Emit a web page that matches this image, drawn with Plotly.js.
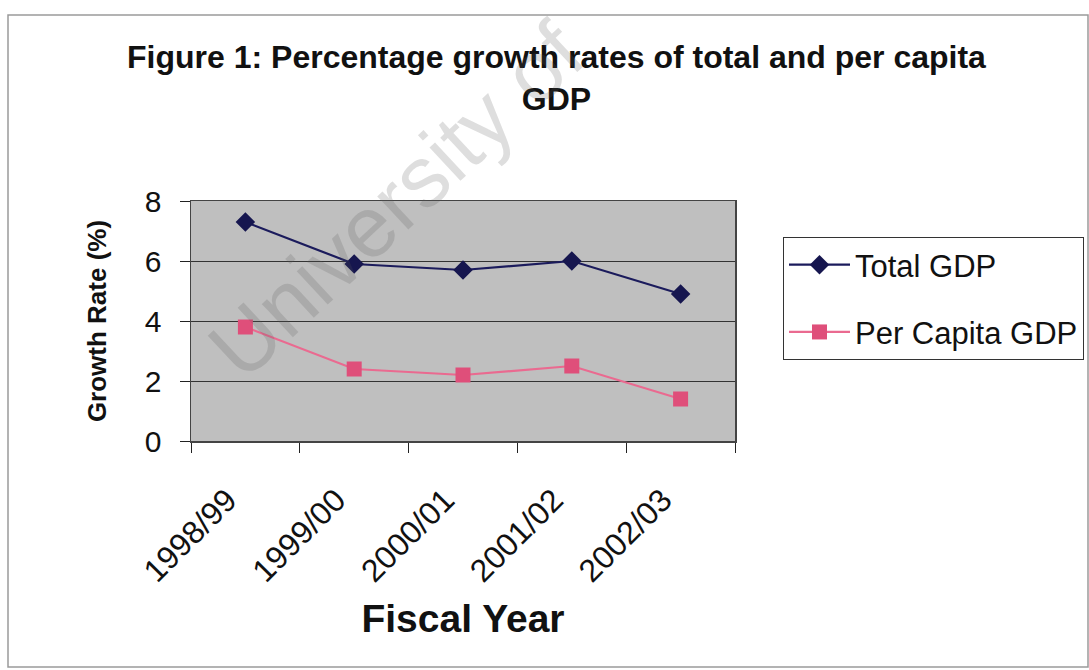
<!DOCTYPE html>
<html>
<head>
<meta charset="utf-8">
<script src="https://cdn.plot.ly/plotly-3.0.1.min.js"></script>
<style>
  html, body { margin: 0; padding: 0; background: #ffffff; }
  #chart { width: 1089px; height: 670px; }
</style>
</head>
<body>
<div id="chart"></div>
<script>
// Fiscal years and growth rates (%)
const fiscalYears = ["1998/99", "1999/00", "2000/01", "2001/02", "2002/03"];
const totalGDP = [7.3, 5.9, 5.7, 6.0, 4.9];
const perCapitaGDP = [3.8, 2.4, 2.2, 2.5, 1.4];

const W = 1089, H = 670;
const M = { l: 191, r: 354, t: 201, b: 229, autoexpand: false };
const PW = W - M.l - M.r, PH = H - M.t - M.b;
// pixel -> paper helpers for the frame around the whole figure
const px = x => (x - M.l) / PW;
const py = y => (H - M.b - y) / PH;

const font = "Arial, 'Liberation Sans', sans-serif";

const traces = [
  {
    x: fiscalYears, y: totalGDP, name: "Total GDP",
    type: "scatter", mode: "lines+markers", legendgroup: "a",
    line: { color: "#1b1b5c", width: 2.2 },
    marker: { symbol: "diamond", size: 15, color: "#16164f" }
  },
  {
    x: fiscalYears, y: perCapitaGDP, name: "Per Capita GDP",
    type: "scatter", mode: "lines+markers", legendgroup: "b",
    line: { color: "#ea6a90", width: 2.2 },
    marker: { symbol: "square", size: 15, color: "#df4f7a" }
  }
];

const layout = {
  width: W, height: H,
  margin: M,
  paper_bgcolor: "#ffffff",
  plot_bgcolor: "#bfbfbf",
  font: { family: font, color: "#111111" },
  title: {
    text: "<b>Figure 1: Percentage growth rates of total and per capita<br>GDP</b>",
    font: { family: font, size: 32, color: "#111111" },
    x: 0.511, xanchor: "center", xref: "container",
    y: 1 - 68 / H, yanchor: "top", yref: "container"
  },
  xaxis: {
    type: "category",
    range: [-0.5, fiscalYears.length - 0.5],
    tickson: "boundaries",
    ticks: "outside", ticklen: 10, tickcolor: "#222", tickwidth: 1,
    tickangle: -45,
    ticklabelshift: -18, ticklabelstandoff: 26,
    tickfont: { family: font, size: 32, color: "#111" },
    showline: true, linecolor: "#444", linewidth: 1.5, mirror: true,
    showgrid: false, zeroline: false,
    title: { text: "<b>Fiscal Year</b>", font: { family: font, size: 39, color: "#111" }, standoff: 16 }
  },
  yaxis: {
    range: [0, 8], dtick: 2,
    ticks: "outside", ticklen: 10, tickcolor: "#222", tickwidth: 1,
    ticklabelstandoff: 12,
    tickfont: { family: font, size: 30, color: "#111" },
    showline: true, linecolor: "#444", linewidth: 1.5, mirror: true,
    showgrid: true, gridcolor: "#333333", gridwidth: 1,
    zeroline: false,
    title: { text: "<b>Growth Rate (%)</b>", font: { family: font, size: 26, color: "#111" }, standoff: 30 }
  },
  showlegend: true,
  legend: {
    x: px(783), xanchor: "left",
    y: py(237), yanchor: "top",
    bgcolor: "#ffffff", bordercolor: "#333333", borderwidth: 1,
    font: { family: font, size: 31, color: "#111" },
    tracegroupgap: 24,
    itemwidth: 61,
    traceorder: "grouped"
  },
  shapes: [
    {
      type: "rect", xref: "paper", yref: "paper",
      x0: px(8), x1: px(1088), y0: py(667), y1: py(15),
      line: { color: "#9a9a9a", width: 1.5 }, layer: "below"
    }
  ],
  annotations: [
    {
      text: "University of", xref: "paper", yref: "paper",
      x: px(396), y: py(200), xanchor: "center", yanchor: "middle",
      textangle: -43, showarrow: false,
      font: { family: font, size: 86, color: "rgba(90,90,90,0.2)" }
    }
  ]
};

Plotly.newPlot("chart", traces, layout, { staticPlot: true, displayModeBar: false });
</script>
</body>
</html>
